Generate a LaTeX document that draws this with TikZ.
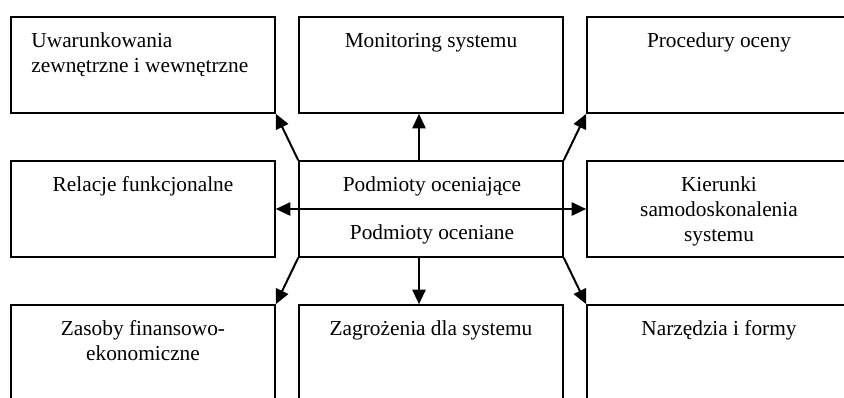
\documentclass[tikz,border=0pt]{standalone}
\usepackage{fontspec}
\setmainfont{Liberation Serif}
\usetikzlibrary{arrows.meta,calc}
\begin{document}
\begin{tikzpicture}[x=0.75pt,y=-0.75pt,
  box/.style={draw, line width=1.2pt, inner sep=0pt, minimum width=198pt, minimum height=72pt},
  txt/.style={inner sep=0pt, align=center, anchor=north, font=\fontsize{16pt}{18.75pt}\selectfont},
  arr/.style={line width=1.5pt, -{Triangle[length=11pt,width=10pt]}},
  darr/.style={line width=1.5pt, {Triangle[length=11pt,width=10pt]}-{Triangle[length=11pt,width=10pt]}}]
\useasboundingbox (0,0) rectangle (844,397);
\clip (0,0) rectangle (844,397);
% boxes
\node[box] (tl) at (143,65) {};
\node[box] (tm) at (431,65) {};
\node[box] (tr) at (719,65) {};
\node[box] (ml) at (143,209) {};
\node[box] (c)  at (431,209) {};
\node[box] (mr) at (719,209) {};
\node[box] (bl) at (143,353) {};
\node[box] (bm) at (431,353) {};
\node[box] (br) at (719,353) {};
% texts
\node[txt, align=left, anchor=north west] (ttl) at ($(tl.north west)+(21,13.5)$) {\strut Uwarunkowania\\\strut zewnętrzne i wewnętrzne};
\node[txt] (ttm) at ($(tm.north)+(0,13.5)$) {\strut Monitoring systemu};
\node[txt] (ttr) at ($(tr.north)+(0,13.5)$) {\strut Procedury oceny};
\node[txt] (tml) at ($(ml.north)+(0,13.5)$) {\strut Relacje funkcjonalne};
\node[txt] (tc1) at ($(c.north)+(1,13.5)$) {\strut Podmioty oceniające};
\node[txt] (tc2) at ($(c.north)+(1,61.5)$) {\strut Podmioty oceniane};
\node[txt] (tmr) at ($(mr.north)+(0,13.5)$) {\strut Kierunki\\\strut samodoskonalenia\\\strut systemu};
\node[txt] (tbl) at ($(bl.north)+(0,13.5)$) {\strut Zasoby finansowo-\\\strut ekonomiczne};
\node[txt] (tbm) at ($(bm.north)+(0,13.5)$) {\strut Zagrożenia dla systemu};
\node[txt] (tbr) at ($(br.north)+(0,13.5)$) {\strut Narzędzia i formy};
% connectors
\draw[darr] (ml.east) -- (mr.west);
\draw[arr] ([xshift=-9pt]c.north) -- ([xshift=-9pt]tm.south);
\draw[arr] ([xshift=-9pt]c.south) -- ([xshift=-9pt]bm.north);
\draw[arr] (c.north west) -- (tl.south east);
\draw[arr] (c.north east) -- (tr.south west);
\draw[arr] (c.south west) -- (bl.north east);
\draw[arr] (c.south east) -- (br.north west);
\end{tikzpicture}
\end{document}
